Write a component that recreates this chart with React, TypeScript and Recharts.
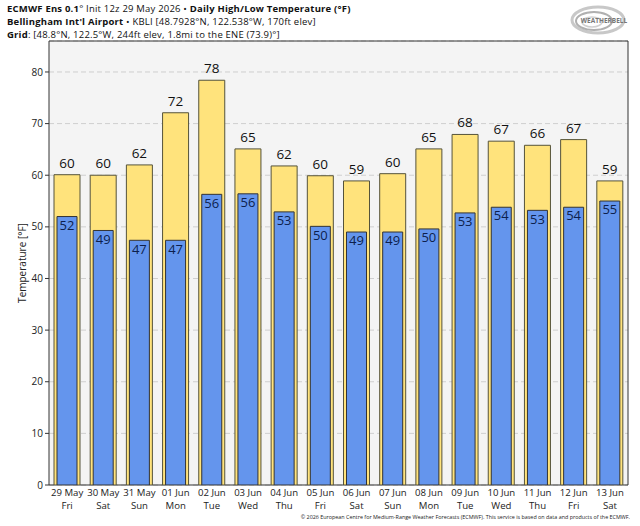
import { BarChart, Bar, XAxis, YAxis, CartesianGrid, LabelList, ReferenceArea } from 'recharts';

const dates = ['29 May', '30 May', '31 May', '01 Jun', '02 Jun', '03 Jun', '04 Jun', '05 Jun', '06 Jun', '07 Jun', '08 Jun', '09 Jun', '10 Jun', '11 Jun', '12 Jun', '13 Jun'];
const weekdays = ['Fri', 'Sat', 'Sun', 'Mon', 'Tue', 'Wed', 'Thu', 'Fri', 'Sat', 'Sun', 'Mon', 'Tue', 'Wed', 'Thu', 'Fri', 'Sat'];
const highs = [60.1, 60.0, 62.0, 72.1, 78.4, 65.1, 61.8, 59.9, 58.9, 60.3, 65.1, 67.9, 66.6, 65.8, 66.9, 58.9];
const lows = [52.0, 49.3, 47.4, 47.4, 56.3, 56.4, 52.9, 50.1, 49.0, 49.0, 49.6, 52.7, 53.8, 53.2, 53.8, 55.0];
const yTicks = [0, 10, 20, 30, 40, 50, 60, 70, 80];

const data = dates.map((d, i) => ({ date: d, day: weekdays[i], high: highs[i], low: lows[i] }));

const FONT = '"Open Sans", "Noto Sans", sans-serif';

function DateTick({ x, y, payload, index }: any) {
  return (
    <g>
      <text x={x} y={y + 11} textAnchor="middle" fontSize={9.6} fill="#222" fontFamily={FONT}>{payload.value}</text>
      <text x={x} y={y + 24} textAnchor="middle" fontSize={9.6} fill="#222" fontFamily={FONT}>{weekdays[index]}</text>
    </g>
  );
}

function Logo() {
  return (
    <svg width={72} height={38} style={{ position: 'absolute', left: 564, top: 2 }}>
      <ellipse cx={34} cy={18} rx={26} ry={13} fill="none" stroke="#c8c8c8" strokeWidth={3} />
      <ellipse cx={30} cy={19} rx={18} ry={9} fill="none" stroke="#b0b0b0" strokeWidth={2} />
      <ellipse cx={28} cy={20} rx={10} ry={5} fill="none" stroke="#d0d0d0" strokeWidth={1.5} />
      <text x={40} y={21} textAnchor="middle" fontSize={6.5} fontWeight="bold" fill="#777" fontFamily={FONT}>WEATHERBELL</text>
    </svg>
  );
}

export default function App() {
  return (
    <div style={{ position: 'absolute', left: 0, top: 0, width: 640, height: 526, background: '#fff', fontFamily: FONT, color: '#111', overflow: 'hidden' }}>
      <div style={{ position: 'absolute', left: 7, top: 2, fontSize: 9.5, lineHeight: '13px', letterSpacing: 0.2, whiteSpace: 'nowrap' }}>
        <div><b>ECMWF Ens 0.1</b>° Init 12z 29 May 2026 • <b>Daily High/Low Temperature (°F)</b></div>
        <div><b>Bellingham Int'l Airport</b> • KBLI [48.7928°N, 122.538°W, 170ft elev]</div>
        <div><b>Grid</b>: [48.8°N, 122.5°W, 244ft elev, 1.8mi to the ENE (73.9)°]</div>
      </div>
      <Logo />
      <div style={{ position: 'absolute', left: 22, top: 263, fontSize: 10, color: '#222', whiteSpace: 'nowrap', transform: 'translate(-50%, -50%) rotate(-90deg)' }}>
        Temperature [°F]
      </div>
      <BarChart width={640} height={526} data={data} margin={{ top: 41, right: 12, bottom: 8, left: 0 }}>
        <CartesianGrid vertical={false} fill="#f4f4f4" stroke="#cfcfcf" strokeDasharray="5 3" />
        <XAxis xAxisId="hi" dataKey="date" height={33} tick={<DateTick />} tickLine={false} tickSize={0} tickMargin={0} axisLine={false} interval={0} />
        <XAxis xAxisId="lo" dataKey="date" hide />
        <YAxis domain={[0, 86]} ticks={yTicks} width={49} tickSize={4} tick={{ fontSize: 10, fill: '#222', fontFamily: FONT }} tickLine={{ stroke: '#333' }} axisLine={false} allowDataOverflow />
        <Bar xAxisId="hi" dataKey="high" barSize={26} fill="#ffe37c" stroke="#55533a" strokeWidth={1} isAnimationActive={false}>
          <LabelList dataKey="high" position="top" offset={7} formatter={(v: any) => Math.round(Number(v))} style={{ fontSize: 13.5, fill: '#111', fontFamily: FONT }} />
        </Bar>
        <Bar xAxisId="lo" dataKey="low" barSize={20} fill="#6495ed" stroke="#333" strokeWidth={1} isAnimationActive={false}>
          <LabelList dataKey="low" position="insideTop" offset={4} formatter={(v: any) => Math.round(Number(v))} style={{ fontSize: 13, fill: '#0d1f4d', fontFamily: FONT }} />
        </Bar>
        <ReferenceArea xAxisId="hi" y1={0} y2={86} fill="none" stroke="#333" strokeWidth={1} ifOverflow="visible" />
      </BarChart>
      <div style={{ position: 'absolute', right: 10, top: 514, fontSize: 5.4, lineHeight: '7px', color: '#222', whiteSpace: 'nowrap' }}>
        © 2026 European Centre for Medium-Range Weather Forecasts (ECMWF). This service is based on data and products of the ECMWF.
      </div>
    </div>
  );
}
